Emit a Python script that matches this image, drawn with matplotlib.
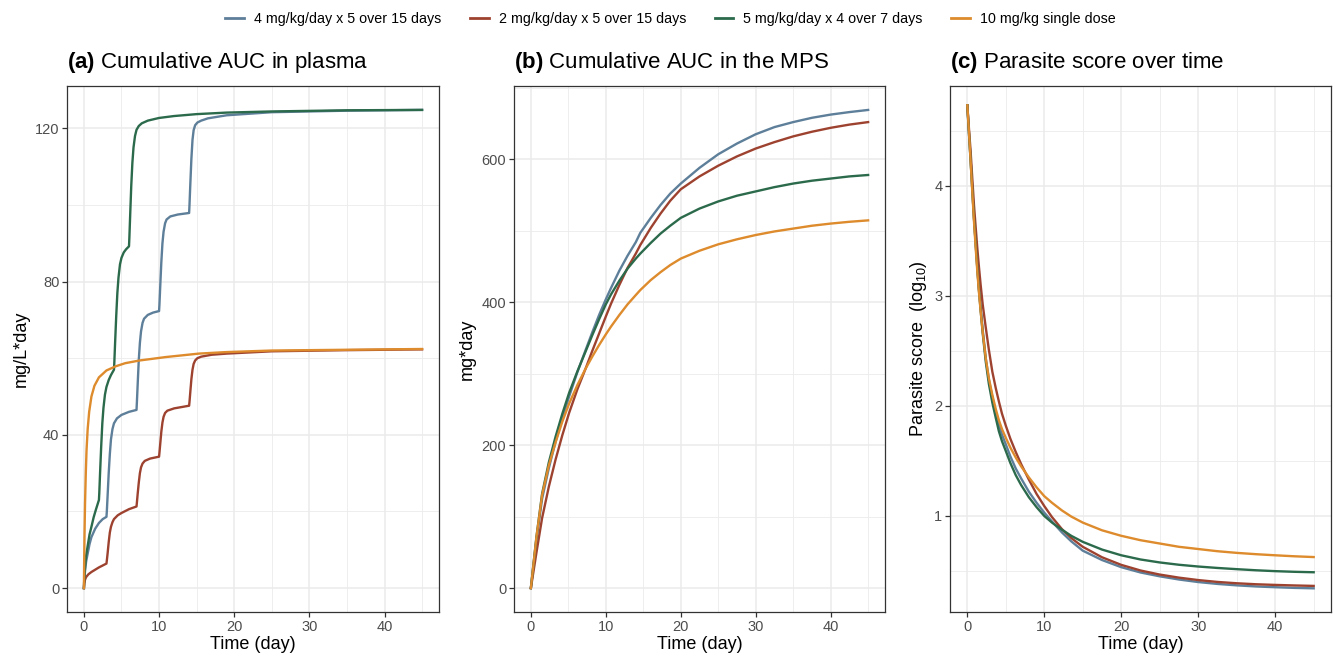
import matplotlib
matplotlib.use('Agg')
import matplotlib.pyplot as plt
from matplotlib.ticker import MultipleLocator
from matplotlib.lines import Line2D

# ---------------- data ----------------
series_labels = ["4 mg/kg/day x 5 over 15 days", "2 mg/kg/day x 5 over 15 days",
                 "5 mg/kg/day x 4 over 7 days", "10 mg/kg single dose"]
series_colors = ["#5E7F99", "#9E4230", "#2C6A4C", "#DD8B2C"]

# (a) cumulative AUC in plasma (mg/L*day)
a_blue_t = [0, 0.05, 0.15, 0.3, 0.5, 0.75, 1.0, 1.5, 2.0, 2.5, 3.0,
            3.05, 3.15, 3.3, 3.45, 3.6, 3.8, 4.0, 4.4, 5.0, 6.0, 7.0,
            7.05, 7.15, 7.3, 7.45, 7.6, 7.8, 8.0, 8.5, 9.2, 10.0,
            10.05, 10.15, 10.3, 10.45, 10.6, 10.8, 11.0, 11.5, 12.5, 14.0,
            14.05, 14.15, 14.3, 14.45, 14.6, 14.8, 15.1, 15.6, 16.5, 19, 25, 35, 45]
a_blue_v = [0, 2, 4.5, 7, 9, 11.5, 13.3, 15.5, 17, 18, 18.6,
            20, 24, 30, 35, 38.8, 41.5, 43, 44.3, 45.2, 46, 46.5,
            48.5, 53, 59.5, 64, 67, 69.2, 70.3, 71.3, 71.9, 72.3,
            74, 78.5, 85, 90, 93, 95.2, 96.2, 97, 97.5, 97.9,
            100, 105, 112, 117, 119.5, 120.8, 121.5, 122, 122.6, 123.4, 124.2, 124.6, 124.8]

a_red_t = [0, 0.05, 0.15, 0.3, 0.6, 1.0, 1.5, 2.0, 2.5, 3.0,
           3.05, 3.15, 3.3, 3.45, 3.6, 3.8, 4.0, 4.5, 5.0, 6.0, 7.0,
           7.05, 7.15, 7.3, 7.45, 7.6, 7.8, 8.1, 8.8, 10.0,
           10.05, 10.15, 10.3, 10.45, 10.6, 10.8, 11.1, 12.0, 14.0,
           14.05, 14.15, 14.3, 14.45, 14.6, 14.8, 15.1, 15.6, 17, 19, 25, 35, 45]
a_red_v = [0, 1.2, 2.2, 2.9, 3.6, 4.2, 4.8, 5.4, 5.9, 6.4,
           7.2, 9, 12, 14.5, 16, 17.2, 18, 19, 19.6, 20.6, 21.3,
           22.3, 24.5, 27.5, 30, 31.5, 32.5, 33.2, 33.8, 34.3,
           35.3, 37.5, 40.8, 43.2, 44.7, 45.7, 46.3, 46.9, 47.6,
           48.6, 51, 54.5, 57, 58.5, 59.4, 60, 60.4, 60.9, 61.2, 61.8, 62.1, 62.3]

a_green_t = [0, 0.05, 0.15, 0.3, 0.5, 0.75, 1.0, 1.3, 1.6, 2.0,
             2.05, 2.15, 2.3, 2.45, 2.6, 2.8, 3.0, 3.3, 3.6, 4.0,
             4.05, 4.15, 4.3, 4.45, 4.6, 4.8, 5.0, 5.3, 5.6, 6.0,
             6.05, 6.15, 6.3, 6.45, 6.6, 6.8, 7.0, 7.3, 7.7, 8.5, 10, 12, 15, 19, 25, 35, 45]
a_green_v = [0, 2.5, 5.5, 8.5, 11, 14, 16, 18.5, 20.5, 23,
             25, 30, 37, 43, 47, 50.5, 52.5, 54.3, 55.6, 57,
             59, 64, 71, 77, 81, 84.5, 86.2, 87.6, 88.4, 89.2,
             91.5, 97, 105, 111, 115, 118, 119.6, 120.6, 121.3, 122, 122.7, 123.2, 123.7, 124.1, 124.4, 124.7, 124.8]

a_orange_t = [0, 0.03, 0.08, 0.15, 0.25, 0.35, 0.5, 0.7, 1.0, 1.4, 2.0, 3.0, 4.25, 5.5, 7.4,
              10.9, 15.3, 19, 25, 35, 45]
a_orange_v = [0, 6, 14, 22, 30, 36, 41.5, 46, 50, 52.8, 55, 56.8, 57.9, 58.7, 59.4,
              60.3, 61.2, 61.6, 62.0, 62.2, 62.4]

# (b) cumulative AUC in the MPS (mg*day)
b_t = [0, 0.75, 1.5, 2.4, 3.3, 4.2, 5.1, 6.2, 7.3, 8.2, 9.1, 10, 10.7, 11.8, 12.9, 14, 14.6, 16,
       17.3, 18.6, 20, 22.5, 25, 27.5, 30, 32.5, 35, 37.5, 40, 42.5, 45]
b_blue = [0, 68, 125, 168, 205, 238, 268, 302, 333, 358, 382, 404, 420, 444, 465, 484, 497, 518,
          536, 552, 566, 588, 607, 622, 635, 645, 652, 658, 662.5, 666, 669]
b_red = [0, 50, 98, 142, 180, 214, 245, 278, 307, 332, 356, 380, 398, 424, 448, 468, 480, 504,
         524, 542, 558, 576, 591, 604, 615, 624, 632, 638.5, 644, 648.5, 652]
b_green = [0, 72, 132, 176, 212, 244, 273, 303, 331, 354, 376, 397, 411, 430, 447, 461, 468, 483,
           496, 507, 518, 531, 541, 549, 555, 561, 566, 570, 573, 576, 578]
b_orange = [0, 72, 130, 172, 204, 233, 258, 284, 307, 324, 340, 355, 366, 382, 397, 410, 417, 431,
            442, 452, 461, 472, 481, 488, 494, 499, 503, 507, 510, 512.5, 514.5]

# (c) parasite score over time (log10)
c_t = [0, 0.2, 0.43, 0.65, 0.87, 1.1, 1.3, 1.5, 1.73, 2.0, 2.4, 2.8, 3.25, 3.7, 4.1, 4.5, 5, 5.6,
       6.3, 7, 8, 9, 10, 11, 12.3, 13.5, 15, 17.5, 20, 22.5, 25, 27.5, 30, 32.5, 35, 37.5, 40, 42.5, 45]
c_blue = [4.73, 4.49, 4.23, 3.96, 3.70, 3.46, 3.25, 3.07, 2.89, 2.69, 2.43, 2.24, 2.08, 1.94, 1.83,
          1.74, 1.65, 1.54, 1.43, 1.34, 1.22, 1.12, 1.03, 0.95, 0.85, 0.77, 0.685, 0.60, 0.535, 0.487,
          0.452, 0.423, 0.400, 0.383, 0.370, 0.360, 0.353, 0.347, 0.343]
c_red = [4.73, 4.53, 4.31, 4.06, 3.82, 3.61, 3.43, 3.27, 3.10, 2.92, 2.71, 2.51, 2.31, 2.16, 2.04,
         1.93, 1.82, 1.70, 1.58, 1.47, 1.33, 1.20, 1.09, 0.99, 0.88, 0.80, 0.72, 0.625, 0.556, 0.505,
         0.468, 0.440, 0.418, 0.401, 0.389, 0.380, 0.374, 0.369, 0.365]
c_green = [4.73, 4.49, 4.23, 3.96, 3.70, 3.46, 3.25, 3.06, 2.87, 2.66, 2.40, 2.20, 2.03, 1.89, 1.77,
           1.68, 1.59, 1.48, 1.37, 1.28, 1.17, 1.08, 1.00, 0.94, 0.875, 0.82, 0.765, 0.695, 0.643,
           0.605, 0.578, 0.557, 0.541, 0.528, 0.517, 0.507, 0.499, 0.493, 0.489]
c_orange = [4.73, 4.50, 4.22, 3.94, 3.67, 3.42, 3.22, 3.04, 2.86, 2.67, 2.43, 2.25, 2.10, 1.97, 1.87,
            1.79, 1.71, 1.62, 1.53, 1.45, 1.35, 1.26, 1.18, 1.12, 1.05, 0.995, 0.94, 0.87, 0.82, 0.78,
            0.75, 0.72, 0.70, 0.68, 0.665, 0.653, 0.643, 0.634, 0.627]

# ---------------- style ----------------
plt.rcParams['font.family'] = ['Liberation Sans', 'DejaVu Sans']
plt.rcParams['mathtext.fontset'] = 'custom'
plt.rcParams['mathtext.rm'] = 'Liberation Sans'
plt.rcParams['mathtext.it'] = 'Liberation Sans:italic'
plt.rcParams['mathtext.bf'] = 'Liberation Sans:bold'

W, H = 1341, 657
fig = plt.figure(figsize=(W / 100, H / 100), dpi=100)


def box(l, r, t, b):
    return [l / W, 1 - b / H, (r - l) / W, (b - t) / H]


axa = fig.add_axes(box(67, 439, 86, 612))
axb = fig.add_axes(box(514, 885, 86, 612))
axc = fig.add_axes(box(950, 1331, 86, 612))

LW = 1.7
for (t, v), col in zip([(a_blue_t, a_blue_v), (a_red_t, a_red_v), (a_green_t, a_green_v),
                        (a_orange_t, a_orange_v)], series_colors):
    axa.plot(t, v, color=col, lw=LW, solid_joinstyle='round')
for v, col in zip([b_blue, b_red, b_green, b_orange], series_colors):
    axb.plot(b_t, v, color=col, lw=LW, solid_joinstyle='round')
for v, col in zip([c_blue, c_red, c_green, c_orange], series_colors):
    axc.plot(c_t, v, color=col, lw=LW, solid_joinstyle='round')

setup = [
    (axa, (-6.24, 131.04), 40, 20, "mg/L*day", r"$\mathbf{(a)}$ Cumulative AUC in plasma"),
    (axb, (-33.45, 702.5), 200, 100, "mg*day", r"$\mathbf{(b)}$ Cumulative AUC in the MPS"),
    (axc, (0.128, 4.905), 1, 0.5, r"Parasite score  (log$_{10}$)", r"$\mathbf{(c)}$ Parasite score over time"),
]
for ax, ylim, ymaj, ymin, ylab, title in setup:
    ax.set_xlim(-2.25, 47.25)
    ax.set_ylim(*ylim)
    ax.xaxis.set_major_locator(MultipleLocator(10))
    ax.xaxis.set_minor_locator(MultipleLocator(5))
    ax.yaxis.set_major_locator(MultipleLocator(ymaj))
    ax.yaxis.set_minor_locator(MultipleLocator(ymin))
    ax.grid(which='major', color='#EBEBEB', lw=1.1)
    ax.grid(which='minor', color='#EBEBEB', lw=0.6)
    ax.set_axisbelow(True)
    for s in ax.spines.values():
        s.set_color('#333333')
        s.set_linewidth(0.9)
    ax.tick_params(which='major', length=3.5, width=0.9, color='#333333',
                   labelcolor='#4D4D4D', labelsize=10.5, pad=2)
    ax.tick_params(which='minor', length=0)
    ax.set_xlabel("Time (day)", fontsize=13, labelpad=2)
    ax.set_ylabel(ylab, fontsize=13, labelpad=4)
    ax.set_title(title, loc='left', fontsize=16, pad=13)

handles = [Line2D([], [], color=c, lw=2) for c in series_colors]
fig.legend(handles, series_labels, loc='center', bbox_to_anchor=(0.5, 1 - 19 / H), ncol=4,
           frameon=False, fontsize=10.3, handlelength=1.3, handletextpad=0.7, columnspacing=2.0)

fig.savefig("out.png", dpi=100, facecolor='white')
